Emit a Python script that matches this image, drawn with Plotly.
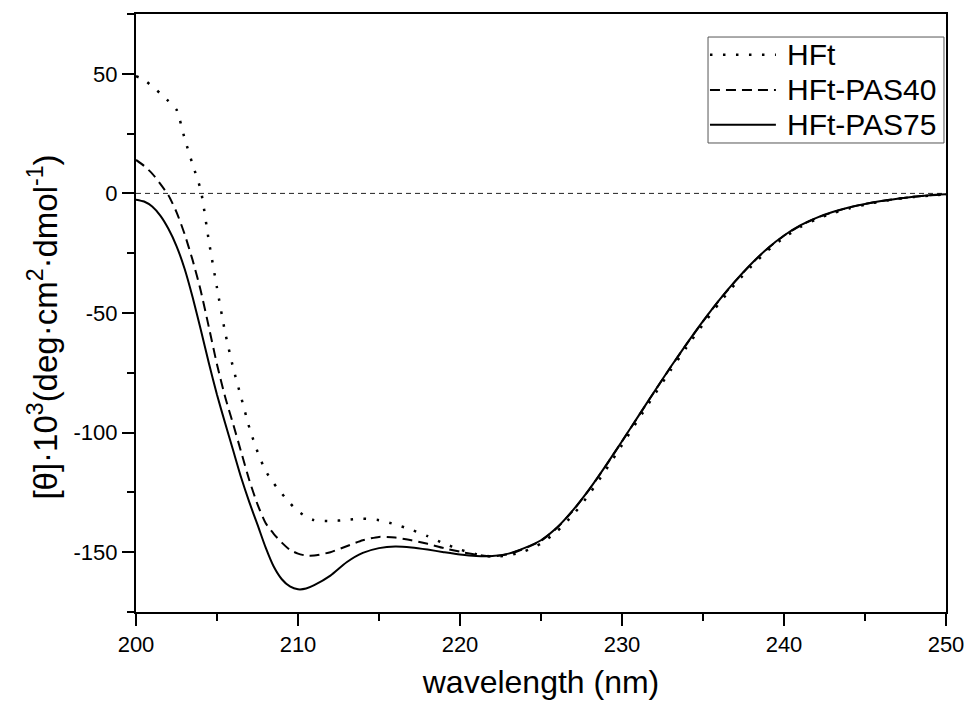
import plotly.graph_objects as go

wavelength = [200, 200.5, 201, 201.5, 202, 202.5, 203, 203.5, 204, 204.5, 205, 205.5,
              206, 206.5, 207, 207.5, 208, 208.5, 209, 209.5, 210, 210.5, 211,
              212, 213, 214, 215, 216, 217, 218, 219, 220, 221, 222, 223, 224, 225,
              226, 227, 228, 229, 230, 231, 232, 233, 234, 235, 236, 237, 238, 239,
              240, 241, 242, 243, 244, 245, 246, 247, 248, 249, 250]

hft = [49, 47.5, 44.7, 41.8, 38.6, 35, 23, 12, 1.3, -20, -39.5, -58,
       -73, -85.5, -98, -108, -116, -121.2, -125.5, -129.5, -132.8, -135.2, -136.6,
       -137, -136.5, -136, -136.6, -138.4, -140.6, -143.3, -146.3, -148.9, -150.8, -151.8, -151.3, -149.6, -146.4,
       -141.2, -134.2, -125.5, -115.6, -105.2, -94.6, -84.2, -74, -64.2, -54.8, -45.9, -37.8, -30.4, -23.9,
       -18.5, -14.1, -10.8, -8.3, -6.3, -4.7, -3.4, -2.3, -1.5, -0.9, -0.4]

hft_pas40 = [14, 11.5, 8.3, 4, -0.8, -7.8, -17, -28, -40.8, -56, -71.5, -85,
             -96.5, -108.3, -120, -130, -137.8, -142.3, -146, -149, -150.6, -151.4, -151.4,
             -150, -147.5, -145, -143.6, -143.9, -145, -146.5, -148.3, -149.8, -151, -151.7, -150.8, -148.4, -145.2,
             -139.8, -132.4, -123.6, -113.9, -103.7, -93.3, -82.9, -72.7, -62.9, -53.5, -44.7, -36.7, -29.4, -23,
             -17.7, -13.5, -10.3, -7.9, -5.9, -4.4, -3.2, -2.2, -1.4, -0.8, -0.4]

hft_pas75 = [-2.6, -3.4, -5.5, -9.3, -14.8, -22, -31.5, -43.5, -57, -71, -84.2, -96,
             -107.5, -119, -129.2, -138.5, -148, -156, -161.3, -164.3, -165.5, -165.2, -163.8,
             -159.8, -154.2, -150.3, -148.3, -147.6, -148, -148.9, -150, -151, -151.6, -151.6, -150.6, -148.2, -145,
             -139.6, -132.2, -123.5, -113.8, -103.6, -93.2, -82.8, -72.6, -62.8, -53.4, -44.6, -36.6, -29.3, -22.9,
             -17.6, -13.4, -10.2, -7.8, -5.9, -4.4, -3.2, -2.2, -1.4, -0.8, -0.4]

series_names = ["HFt", "HFt-PAS40", "HFt-PAS75"]

x_ticks = [200, 210, 220, 230, 240, 250]
y_ticks = [-150, -100, -50, 0, 50]

FONT = "Liberation Sans, Arial, sans-serif"

line_styles = [
    dict(color="black", width=2.5, dash="2.5px,10.5px"),
    dict(color="black", width=2, dash="10px,6px"),
    dict(color="black", width=2),
]

fig = go.Figure()
for name, values, style in zip(series_names, [hft, hft_pas40, hft_pas75], line_styles):
    fig.add_trace(go.Scatter(x=wavelength, y=values, mode="lines", name=name,
                             line=dict(shape="spline", smoothing=0.6, **style),
                             showlegend=False))

fig.add_hline(y=0, line=dict(color="#222222", width=1, dash="5px,4px"), layer="below")

axis_common = dict(
    showgrid=False, zeroline=False, showline=True, mirror=True, automargin=False,
    linecolor="black", linewidth=2,
    ticks="outside", ticklen=12, tickwidth=2, tickcolor="black",
    tickfont=dict(family=FONT, size=22, color="black"),
    ticklabeloverflow="allow",
)

fig.update_xaxes(range=[200, 250], tickvals=x_ticks, ticktext=[str(v) for v in x_ticks],
                 minor=dict(dtick=5, tick0=200, ticks="outside", ticklen=7, tickwidth=2, tickcolor="black"),
                 title=dict(text="wavelength (nm)", font=dict(family=FONT, size=32, color="black"), standoff=14),
                 **axis_common)
fig.update_yaxes(range=[-175, 75], tickvals=y_ticks, ticktext=[str(v) for v in y_ticks],
                 minor=dict(dtick=25, tick0=0, ticks="outside", ticklen=7, tickwidth=2, tickcolor="black"),
                 **axis_common)

fig.add_annotation(
    text="[θ]·10<sup>3</sup>(deg·cm<sup>2</sup>·dmol<sup>-1</sup>)",
    xref="paper", yref="paper", x=-0.115, y=0.477, textangle=-90,
    showarrow=False, xanchor="center", yanchor="middle",
    font=dict(family=FONT, size=33, color="black"),
)

# legend box drawn in paper coordinates
leg_x0, leg_x1, leg_y0, leg_y1 = 0.7062, 0.9975, 0.7843, 0.9615
fig.add_shape(type="rect", xref="paper", yref="paper", x0=leg_x0, x1=leg_x1, y0=leg_y0, y1=leg_y1,
              line=dict(color="#555555", width=1), fillcolor="white", layer="above")
row_y = [0.9320, 0.8730, 0.8150]
for name, style, yy in zip(series_names, line_styles, row_y):
    fig.add_shape(type="line", xref="paper", yref="paper", x0=0.7086, x1=0.7900, y0=yy, y1=yy,
                  line=style, layer="above")
    fig.add_annotation(text=name, xref="paper", yref="paper", x=0.8010, y=yy,
                       xanchor="left", yanchor="middle", showarrow=False,
                       font=dict(family=FONT, size=30, color="black"))

fig.update_layout(
    width=969, height=701,
    margin=dict(l=136, r=23, t=14, b=89),
    paper_bgcolor="white", plot_bgcolor="white",
    showlegend=False,
)

# remove the browser's default 8px page margin so the figure fills the window exactly
fig.write_html("out.html",
               config={"displayModeBar": False},
               post_script="document.body.style.margin='0';document.body.style.overflow='hidden';")
